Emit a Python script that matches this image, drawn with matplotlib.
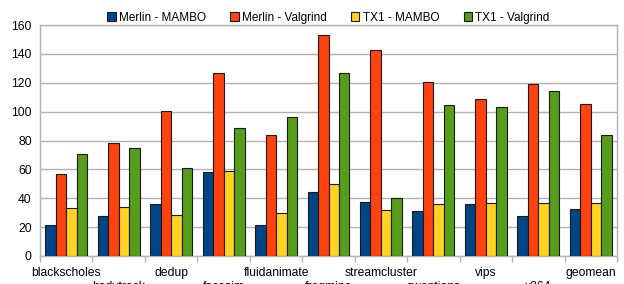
import matplotlib.pyplot as plt
import numpy as np

plt.rcParams["font.family"] = ["Liberation Sans", "DejaVu Sans"]

benchmarks = ["blackscholes", "bodytrack", "dedup", "facesim", "fluidanimate",
              "freqmine", "streamcluster", "swaptions", "vips", "x264", "geomean"]
series = ["Merlin - MAMBO", "Merlin - Valgrind", "TX1 - MAMBO", "TX1 - Valgrind"]
merlin_mambo = [21.5, 28, 36, 58, 21.5, 44.5, 37.5, 31, 36, 27.5, 32.5]
merlin_valgrind = [56.5, 78.5, 100.5, 127, 84, 153, 142.5, 120.5, 109, 119, 105]
tx1_mambo = [33, 34, 28.5, 59, 29.5, 50, 32, 36, 36.5, 37, 36.5]
tx1_valgrind = [70.5, 75, 61, 89, 96, 127, 40, 104.5, 103, 114, 84]
colors = ["#004586", "#ff420e", "#ffd320", "#579d1c"]

fig = plt.figure(figsize=(6.24, 2.84), dpi=100)
ax = fig.add_axes([40 / 624, 28 / 284, 577 / 624, 231 / 284])

x = np.arange(len(benchmarks))
width = 0.2
values = [merlin_mambo, merlin_valgrind, tx1_mambo, tx1_valgrind]
for i, (name, vals) in enumerate(zip(series, values)):
    ax.bar(x + (i - 1.5) * width, vals, width, color=colors[i],
           edgecolor="#1a1a1a", linewidth=0.8, label=name, zorder=3)

ax.set_xlim(-0.5, len(benchmarks) - 0.5)
ax.set_ylim(0, 160)
ax.set_yticks(range(0, 161, 20))
ax.grid(axis="y", color="#b3b3b3", linewidth=1, zorder=0)

# category labels staggered on two rows, second row runs off the bottom
ax.set_xticks(x)
ax.set_xticklabels([b if i % 2 == 0 else "\n" + b for i, b in enumerate(benchmarks)],
                   fontsize=8.7, linespacing=1.25)
ax.tick_params(axis="x", length=0, pad=8)
ax.set_xticks(np.arange(-0.5, len(benchmarks)), minor=True)
ax.tick_params(axis="x", which="minor", length=4, color="#b3b3b3", width=1)
ax.tick_params(axis="y", length=0, labelsize=8.7, pad=6)

for side in ax.spines.values():
    side.set_color("#b3b3b3")
    side.set_linewidth(1)

ax.legend(loc="lower center", bbox_to_anchor=(0.5, 0.985), ncol=4, frameon=False,
          fontsize=8.5, handlelength=0.7, handleheight=0.7, handletextpad=0.3,
          columnspacing=2.05, borderaxespad=0.0)

fig.savefig("out.png", dpi=100)
